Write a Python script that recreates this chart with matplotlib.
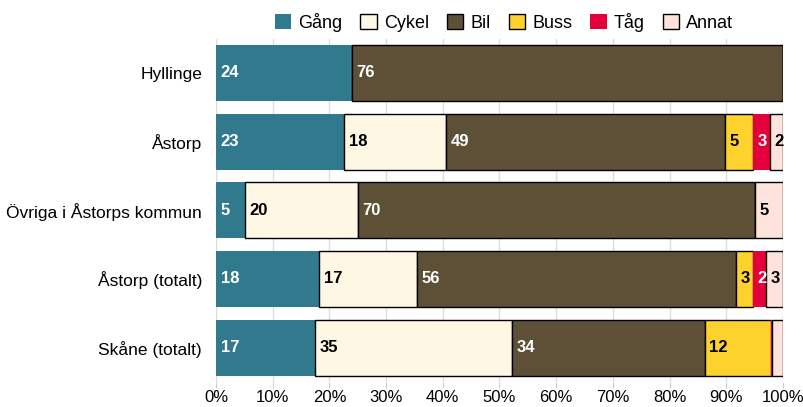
import matplotlib
matplotlib.use("Agg")
import matplotlib.pyplot as plt
from matplotlib.patches import Patch
import numpy as np

plt.rcParams['font.family'] = ['Liberation Sans', 'DejaVu Sans']

categories = ["Hyllinge", "Åstorp", "Övriga i Åstorps kommun", "Åstorp (totalt)", "Skåne (totalt)"]
series_names = ["Gång", "Cykel", "Bil", "Buss", "Tåg", "Annat"]
gang  = [24.0, 22.6, 5.1, 18.2, 17.4]
cykel = [0.0, 18.0, 19.9, 17.2, 34.8]
bil   = [76.0, 49.2, 70.0, 56.3, 34.0]
buss  = [0.0, 4.9, 0.0, 3.0, 11.6]
tag   = [0.0, 3.0, 0.0, 2.3, 0.3]
annat = [0.0, 2.3, 5.0, 3.0, 1.9]
series = [gang, cykel, bil, buss, tag, annat]

colors = ["#317a8e", "#fdf7e4", "#5e5037", "#fdd22c", "#e4003a", "#fde3dc"]
edges = [None, "black", "black", "black", None, "black"]
text_colors = ["white", "black", "white", "black", "white", "black"]
xticks = np.arange(0, 101, 10)

fig = plt.figure(figsize=(8.04, 4.07), dpi=100)
ax = fig.add_axes([216/804, 1-382/407, (783-216)/804, (382-38.5)/407])

y = np.arange(len(categories))
left = np.zeros(len(categories))
for name, vals, c, ec, tc in zip(series_names, series, colors, edges, text_colors):
    vals = np.array(vals)
    ax.barh(y, vals, left=left, height=0.815, color=c,
            edgecolor=ec if ec else c, linewidth=1.0 if ec else 0, zorder=3)
    for yi, (l, v) in enumerate(zip(left, vals)):
        if v >= 2.0:
            ax.text(l + 0.8, yi, f"{round(v)}", va="center", ha="left",
                    color=tc, fontsize=12, fontweight="bold", zorder=4)
    left += vals

ax.set_xlim(0, 100)
ax.set_ylim(len(categories) - 0.5, -0.5)
ax.set_yticks(y)
ax.set_yticklabels(categories, fontsize=12.5)
ax.set_xticks(xticks)
ax.set_xticklabels([f"{t}%" for t in xticks], fontsize=12)
ax.tick_params(axis='y', length=0, pad=10)
ax.tick_params(axis='x', length=4, color="#cccccc", pad=2)
ax.grid(axis='x', color="#dddddd", linewidth=1, zorder=0)
for s in ax.spines.values():
    s.set_visible(False)

handles = [Patch(facecolor=c, edgecolor=(ec if ec else c), linewidth=1.0 if ec else 0)
           for c, ec in zip(colors, edges)]
fig.legend(handles, series_names, loc="center", bbox_to_anchor=(504/804, 1-22/407),
           ncol=6, frameon=False, fontsize=13, handlelength=0.9, handleheight=0.9,
           handletextpad=0.4, columnspacing=1.0)

fig.savefig("out.png", dpi=100)
